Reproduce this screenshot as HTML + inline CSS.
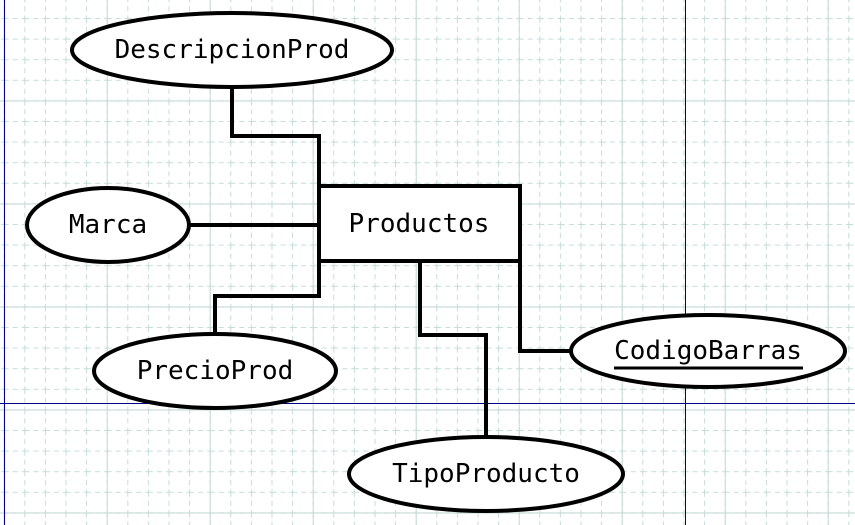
<!DOCTYPE html>
<html><head><meta charset="utf-8"><style>
html,body{margin:0;padding:0;background:#fff;}
svg{display:block;}
text{font-family:"DejaVu Sans Mono","Liberation Mono",monospace;font-size:26px;fill:#000;}
</style></head><body>
<svg width="855" height="525" viewBox="0 0 855 525" xmlns="http://www.w3.org/2000/svg">
<defs>
<pattern id="minor" x="3.7" y="-2.6" width="20.6" height="20.6" patternUnits="userSpaceOnUse">
<path d="M0.5 0V20.6M0 0.5H20.6" stroke="#c4ddd8" stroke-width="1" stroke-dasharray="5 4" fill="none"/>
</pattern>
<pattern id="major" x="3.7" y="-2.6" width="103" height="103" patternUnits="userSpaceOnUse">
<path d="M0.5 0V103M0 0.5H103" stroke="#c8dcd8" stroke-width="1.3" fill="none"/>
</pattern>
</defs>
<rect width="855" height="525" fill="url(#minor)"/>
<rect width="855" height="525" fill="url(#major)"/>
<g shape-rendering="crispEdges" stroke="#00008b" stroke-width="1">
<line x1="4.5" y1="0" x2="4.5" y2="525"/>
<line x1="685.5" y1="0" x2="685.5" y2="525"/>
<line x1="0" y1="403.5" x2="855" y2="403.5"/>
</g>
<g stroke="#000" stroke-width="4" fill="none">
<polyline points="232,87 232,136 319,136 319,186"/>
<polyline points="189,225 319,225"/>
<polyline points="215,334 215,296 319,296 319,261"/>
<polyline points="420,261 420,335 486,335 486,437"/>
<polyline points="520,261 520,351 571,351"/>
</g>
<g stroke="#000" stroke-width="4" fill="#fff">
<rect x="319" y="186" width="201" height="75"/>
<ellipse cx="232" cy="50" rx="160" ry="37"/>
<ellipse cx="108" cy="225" rx="81" ry="37"/>
<ellipse cx="215" cy="371" rx="121" ry="37"/>
<ellipse cx="708" cy="351" rx="137" ry="36"/>
<ellipse cx="486" cy="474" rx="137" ry="37"/>
</g>
<text x="232" y="58" text-anchor="middle">DescripcionProd</text>
<text x="108" y="233" text-anchor="middle">Marca</text>
<text x="419" y="232" text-anchor="middle">Productos</text>
<text x="215" y="379" text-anchor="middle">PrecioProd</text>
<text x="708" y="359" text-anchor="middle">CodigoBarras</text>
<line x1="614" y1="368" x2="803" y2="368" stroke="#000" stroke-width="3"/>
<text x="486" y="482" text-anchor="middle">TipoProducto</text>
</svg>
</body></html>
